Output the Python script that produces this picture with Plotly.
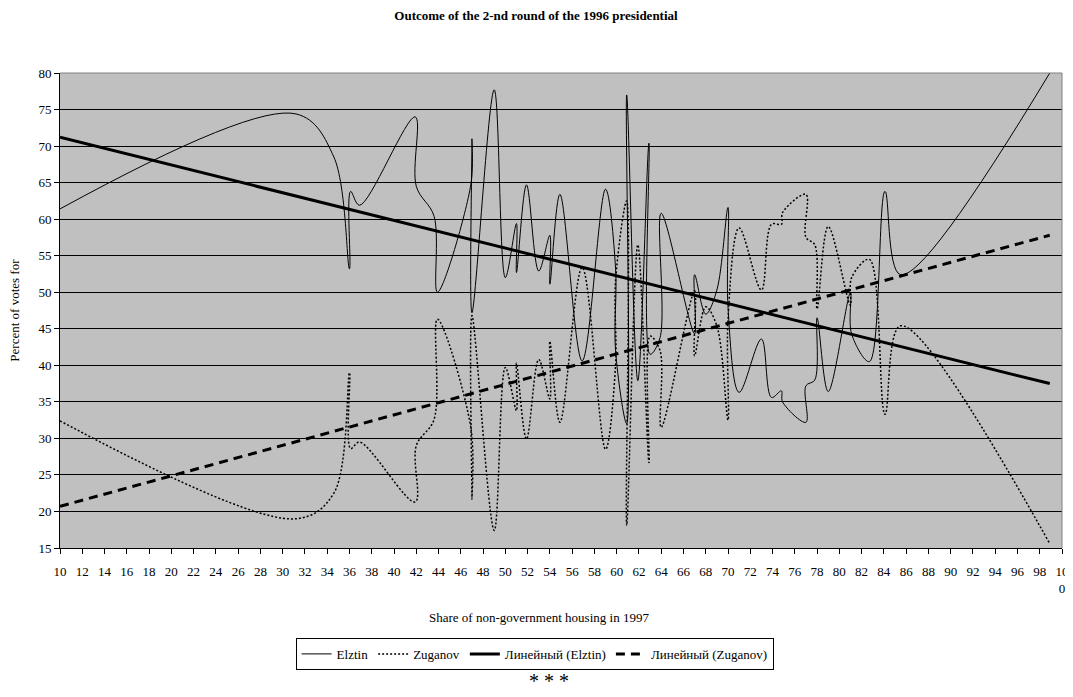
import plotly.graph_objects as go

# Share of non-government housing in 1997 (x), sorted as in the source table
share_x = [10.0, 31.2, 34.6, 36.0, 36.1, 36.9, 41.9, 42.0, 43.6, 43.9,
           46.9, 47.0, 47.0, 49.0, 50.0, 51.0, 51.0, 51.9, 53.0, 54.0,
           54.0, 54.9, 56.9, 59.0, 59.9, 59.9, 60.9, 60.9, 61.9, 62.9,
           63.0, 63.9, 64.0, 67.0, 67.0, 68.0, 69.0, 70.0, 70.0, 71.0,
           73.0, 73.9, 74.8, 74.9, 77.0, 77.0, 77.8, 78.0, 79.0, 81.0,
           81.1, 82.7, 84.1, 85.5, 98.9]

elztin = [61.4, 74.4, 68.5, 53.2, 63.8, 61.9, 74.0, 64.5, 60.4, 50.0,
          64.7, 71.0, 47.2, 77.7, 52.0, 59.4, 52.7, 64.7, 52.9, 57.8,
          51.1, 63.4, 40.6, 64.1, 53.3, 42.0, 32.0, 77.0, 37.9, 70.4,
          41.5, 43.8, 60.8, 44.3, 52.4, 47.0, 50.3, 61.6, 48.0, 36.3,
          43.6, 35.6, 36.5, 35.0, 32.2, 37.2, 38.0, 46.5, 36.4, 50.0,
          44.3, 40.5, 63.8, 52.4, 80.0]

zuganov = [32.4, 19.0, 22.5, 39.0, 28.6, 29.5, 21.3, 29.0, 32.6, 46.3,
           31.5, 21.7, 46.8, 17.4, 39.7, 33.8, 40.3, 29.9, 40.8, 35.4,
           43.3, 32.2, 53.4, 28.5, 40.0, 51.5, 62.5, 18.1, 56.5, 26.7,
           44.0, 42.0, 31.5, 50.2, 41.3, 48.0, 45.4, 32.5, 46.3, 58.8,
           50.3, 59.3, 59.3, 60.9, 63.4, 57.5, 56.5, 47.7, 59.0, 48.2,
           52.0, 54.5, 33.3, 45.4, 15.6]

# Linear trendlines (end points)
trend_x = [10.0, 98.9]
elztin_trend = [71.2, 37.5]
zuganov_trend = [20.7, 57.8]

x_ticks = list(range(10, 101, 2))
x_ticktext = [str(v) for v in x_ticks[:-1]] + ["10<br>0"]

FONT = "Liberation Serif, Times New Roman, serif"

# page body has an 8px margin: the layout is laid out 8px up/left
OFF = 8
PL, PR, PT, PB = 60 - OFF, 1065 - OFF, 73.3 - OFF, 548.5 - OFF
PW, PH = PR - PL, PB - PT


def px_x(sx):
    return (sx - OFF - PL) / PW


def px_y(sy):
    return (PB - (sy - OFF)) / PH


fig = go.Figure()
fig.add_trace(go.Scatter(x=share_x, y=elztin, mode="lines", name="Elztin",
                         line=dict(color="black", width=1, shape="spline", smoothing=1)))
fig.add_trace(go.Scatter(x=share_x, y=zuganov, mode="lines", name="Zuganov",
                         line=dict(color="black", width=1.5, shape="spline", smoothing=1,
                                   dash="2px,2px")))
fig.add_trace(go.Scatter(x=trend_x, y=elztin_trend, mode="lines", name="Линейный (Elztin)",
                         line=dict(color="black", width=3)))
fig.add_trace(go.Scatter(x=trend_x, y=zuganov_trend, mode="lines", name="Линейный (Zuganov)",
                         line=dict(color="black", width=3, dash="9px,6px")))

fig.update_layout(
    width=1073, height=697,
    margin=dict(l=PL, r=1073 - PR, t=PT, b=697 - PB),
    paper_bgcolor="white",
    plot_bgcolor="#C0C0C0",
    font=dict(family=FONT, size=13, color="black"),
    title=dict(text="<b>Outcome of the 2-nd round of the 1996 presidential</b>",
               x=(536 - OFF) / 1073, xref="container", y=1 - (15 - OFF) / 697, yref="container",
               xanchor="center", yanchor="middle",
               font=dict(family=FONT, size=13, color="black")),
    showlegend=True,
    legend=dict(orientation="h", x=px_x(536), xanchor="center", y=px_y(654.5), yanchor="middle",
                bordercolor="black", borderwidth=1, bgcolor="white",
                font=dict(family=FONT, size=13, color="black"),
                itemwidth=30, tracegroupgap=0),
    xaxis=dict(range=[10, 100], tickmode="array", tickvals=x_ticks, ticktext=x_ticktext,
               ticks="outside", ticklen=5, tickcolor="black", showline=True,
               linecolor="black", linewidth=1, showgrid=False, zeroline=False,
               ticklabelstandoff=6,
               tickfont=dict(family=FONT, size=13, color="black")),
    yaxis=dict(range=[15, 80], dtick=5, tick0=15, ticks="outside", ticklen=5,
               tickcolor="black", showline=True, linecolor="black", linewidth=1,
               showgrid=True, gridcolor="black", gridwidth=1, zeroline=False,
               tickfont=dict(family=FONT, size=13, color="black")),
    annotations=[
        dict(text="Percent of votes for", xref="paper", yref="paper",
             x=px_x(14), y=0.5, textangle=-90, showarrow=False,
             xanchor="center", yanchor="middle", font=dict(family=FONT, size=13)),
        dict(text="Share of non-government housing in 1997", xref="paper", yref="paper",
             x=px_x(540), y=px_y(618), showarrow=False,
             xanchor="center", yanchor="middle", font=dict(family=FONT, size=13)),
        dict(text="* * *", xref="paper", yref="paper",
             x=px_x(550), y=px_y(682), showarrow=False,
             xanchor="center", yanchor="middle", font=dict(family=FONT, size=20)),
    ],
    shapes=[
        dict(type="line", xref="paper", yref="paper", x0=0, x1=1, y0=1, y1=1,
             line=dict(color="#808080", width=1), layer="above"),
        dict(type="line", xref="paper", yref="paper", x0=1, x1=1, y0=0, y1=1,
             line=dict(color="#808080", width=1), layer="above"),
    ],
)

fig.write_html("out.html")
